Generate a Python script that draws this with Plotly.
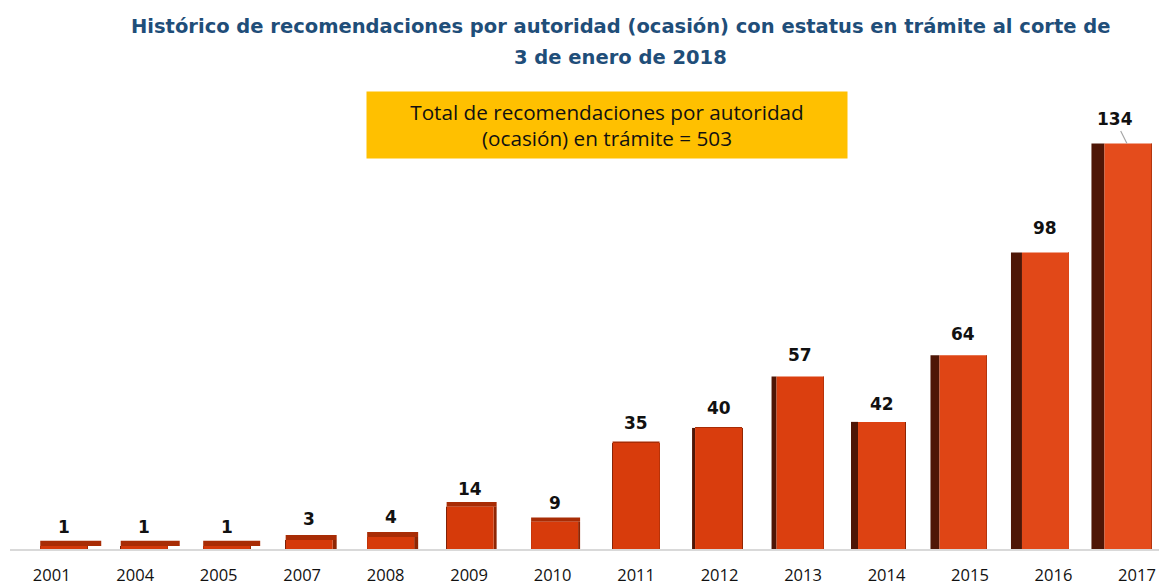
import plotly.graph_objects as go

years = ["2001", "2004", "2005", "2007", "2008", "2009", "2010",
         "2011", "2012", "2013", "2014", "2015", "2016", "2017"]
values = [1, 1, 1, 3, 4, 14, 9, 35, 40, 57, 42, 64, 98, 134]

title_line1 = "<b>Histórico de recomendaciones por autoridad (ocasión) con estatus en trámite al corte de</b>"
title_line2 = "<b>3 de enero de 2018</b>"
box_text = "Total de recomendaciones por autoridad<br>(ocasión) en trámite = 503"

# ---- styling of the pseudo-3D bars (pixels / category units) ----
CAT_PX = 1157 / 13.86
front_w = 0.563
shift_px = [12, 9, 8, 7, 5, 1, 2, 0, -1, -3, -5, -7, -8, -9]          # perspective shift of front face
left_face_px = [0, 0, 0, 0, 0, 0, 0, 0, 3, 5, 7, 9, 11, 13]            # dark face on the left
right_face_px = [0, 0, 0, 4, 4, 3, 2, 0, 0, 0, 0, 0, 0, 0]             # dark face on the right
top_face_h = [1.7, 1.7, 1.7, 1.6, 1.6, 1.5, 1.4, 0.5, 0.3, 0, 0, 0, 0, 0]
top_face_px = [14, 12, 10, 4, 4, 3, 2, 0, 0, 0, 0, 0, 0, 0]
label_yshift = [2, 2, 2, 4, 3, 1, 3, 7, 7, 9, 6, 9, 12, 0]
front_colors = ["#D4390A", "#D4390A", "#D4390A", "#D5390A", "#D63A0A", "#D63A0A", "#D73B0B",
                "#D83C0C", "#D93D0D", "#DB3F0F", "#DD4212", "#DF4515", "#E14818", "#E44C1C"]

front_off = [s / CAT_PX - front_w / 2 for s in shift_px]
lf_w = [w / CAT_PX for w in left_face_px]
lf_off = [o - w for o, w in zip(front_off, lf_w)]
rf_w = [w / CAT_PX for w in right_face_px]
rf_off = [o + front_w for o in front_off]
tf_w = [front_w + w / CAT_PX for w in top_face_px]

fig = go.Figure()
# left (dark) side faces
fig.add_trace(go.Bar(x=years, y=values, width=lf_w, offset=lf_off,
                     marker=dict(color="#4E1606", line=dict(width=0)),
                     hoverinfo="skip", showlegend=False))
# right side faces
fig.add_trace(go.Bar(x=years, y=values, width=rf_w, offset=rf_off,
                     marker=dict(color="#8E2604", line=dict(width=0)),
                     hoverinfo="skip", showlegend=False))
# top faces
fig.add_trace(go.Bar(x=years, y=top_face_h, base=values, width=tf_w, offset=front_off,
                     marker=dict(color="#A82C05", line=dict(width=0)),
                     hoverinfo="skip", showlegend=False))
# front faces
fig.add_trace(go.Bar(x=years, y=values, width=front_w, offset=front_off,
                     marker=dict(color=front_colors, line=dict(width=0)),
                     showlegend=False))

label_font = dict(family="DejaVu Sans", size=17, color="#111111")
annotations = []
for i, v in enumerate(values):
    if i == len(values) - 1:
        annotations.append(dict(
            x=i, y=v, xref="x", yref="y", text=f"<b>{v}</b>",
            showarrow=True, arrowhead=0, arrowwidth=1.2, arrowcolor="#A6A6A6",
            xshift=shift_px[i] - 1, ax=-12, ay=-24, standoff=0, startstandoff=0,
            font=label_font))
    else:
        annotations.append(dict(
            x=i, y=v + top_face_h[i], xref="x", yref="y", text=f"<b>{v}</b>",
            showarrow=False, yanchor="bottom", yshift=label_yshift[i], xshift=shift_px[i],
            font=label_font))

# title lines
title_font = dict(family="DejaVu Sans", size=19.5, color="#1F4E79")
annotations.append(dict(text=title_line1, xref="paper", yref="paper", x=0.528, y=1.15,
                        xanchor="center", yanchor="middle", showarrow=False, font=title_font))
annotations.append(dict(text=title_line2, xref="paper", yref="paper", x=0.528, y=1.0837,
                        xanchor="center", yanchor="middle", showarrow=False, font=title_font))
# total box
annotations.append(dict(text=box_text, xref="paper", yref="paper", x=0.516, y=0.934,
                        xanchor="center", yanchor="middle", showarrow=False,
                        bgcolor="#FFC000", width=478, height=64, borderpad=1,
                        font=dict(family="Open Sans", size=20.7, color="#111111")))

# the page body adds an 8 px margin, so the figure is 8 px smaller than the window
fig.update_layout(
    width=1159, height=578,
    barmode="overlay",
    plot_bgcolor="white", paper_bgcolor="white",
    margin=dict(l=2, r=0, t=87, b=37, autoexpand=False),
    xaxis=dict(type="category", showgrid=False, showline=True, linecolor="#D9D9D9", linewidth=2,
               ticks="", range=[-0.5, 13.36], automargin=False, ticklabelstandoff=10,
               tickfont=dict(family="Open Sans", size=16.5, color="#111111")),
    yaxis=dict(range=[0, 150], visible=False, automargin=False),
    annotations=annotations,
)

fig.write_html("out.html")
